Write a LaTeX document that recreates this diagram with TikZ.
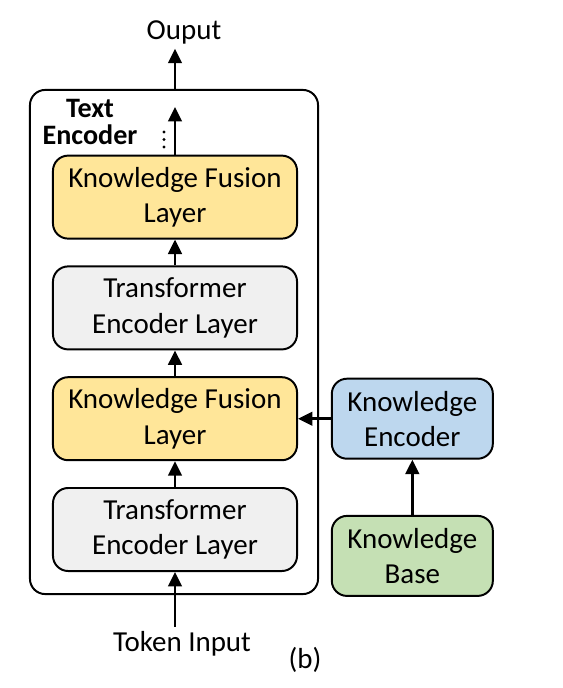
\documentclass[tikz,border=0pt]{standalone}
\usepackage{fontspec}
\setmainfont{Carlito}
\usepackage{tikz}
\usetikzlibrary{arrows.meta, positioning}
\definecolor{fusionyellow}{HTML}{FFE699}
\definecolor{layergray}{HTML}{F0F0F0}
\definecolor{encblue}{HTML}{BDD7EE}
\definecolor{basegreen}{HTML}{C5E0B4}
\tikzstyle{block} = [rectangle, draw, line width=1.4pt, rounded corners=0.38cm,
    minimum width=6.1cm, minimum height=2.075cm, text centered, align=center,
    font=\fontsize{20.6}{25}\selectfont]
\tikzstyle{sideblock} = [block, minimum width=4.025cm, minimum height=2.0cm]
\tikzstyle{line} = [draw, line width=1.8pt, -{Triangle[length=0.36cm,width=0.34cm]}]
\tikzstyle{label} = [font=\fontsize{20.6}{24}\selectfont]

\begin{document}
\begin{tikzpicture}[x=0.025cm, y=-0.025cm, node distance=0.645cm]
    \useasboundingbox (0,0) rectangle (562,688);
    % Place nodes
    \node [rectangle, draw, line width=1.4pt, rounded corners=0.38cm,
        minimum width=7.2cm, minimum height=12.6cm] (textenc) at (174,342) {};
    \node [block, fill=layergray] (te1) at (175,529.5) {Transformer\\Encoder Layer};
    \node [block, fill=fusionyellow, above=of te1] (fusion1) {Knowledge Fusion\\Layer};
    \node [block, fill=layergray, above=of fusion1] (te2) {Transformer\\Encoder Layer};
    \node [block, fill=fusionyellow, above=of te2] (fusion2) {Knowledge Fusion\\Layer};
    \node [sideblock, fill=encblue, right=0.82cm of fusion1] (kenc) {Knowledge\\Encoder};
    \node [sideblock, fill=basegreen, below=1.38cm of kenc] (kbase) {Knowledge\\Base};

    \node [label, align=center, font=\fontsize{20}{19}\selectfont\bfseries] (encname) at (90,122) {Text\\Encoder};
    \coordinate (topend) at (175,107);
    \node [label] (out) at (184,32) {Ouput};
    \node [label] (tokin) at (182,644) {Token Input};
    \node [label] (sub) at (305,660) {(b)};

    % dots
    \foreach \y in {132,139.5,147}
        \fill (164,\y) circle (1.7);

    % Draw edges
    \path [line] (tokin.north -| te1.south) -- (te1.south);
    \path [line] (te1) -- (fusion1);
    \path [line] (fusion1) -- (te2);
    \path [line] (te2) -- (fusion2);
    \path [line] (fusion2.north) -- (topend);
    \path [line] (textenc.north -| fusion2.north) -- (out.south -| fusion2.north);
    \path [line] (kbase) -- (kenc);
    \path [line] (kenc.west) -- (fusion1.east);

\end{tikzpicture}
\end{document}
